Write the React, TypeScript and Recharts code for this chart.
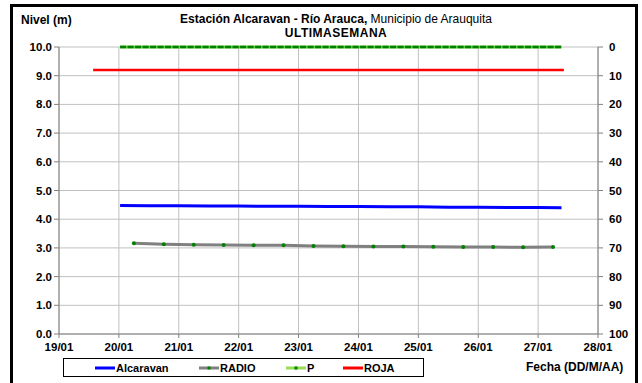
import React from 'react'
import { LineChart, Line, XAxis, YAxis, CartesianGrid } from 'recharts'

// time in day-of-month (January), fractional part = hour of day
const alcaravanDays = [20.02, 20.5, 21, 21.5, 22, 22.5, 23, 23.5, 24, 24.5, 25, 25.5, 26, 26.5, 27, 27.39]
const alcaravanLevels = [4.48, 4.47, 4.47, 4.46, 4.46, 4.45, 4.45, 4.44, 4.44, 4.43, 4.43, 4.42, 4.42, 4.41, 4.41, 4.4]

const radioDays = [20.25, 20.75, 21.25, 21.75, 22.25, 22.75, 23.25, 23.75, 24.25, 24.75, 25.25, 25.75, 26.25, 26.75, 27.25]
const radioLevels = [3.16, 3.13, 3.11, 3.1, 3.09, 3.09, 3.07, 3.06, 3.05, 3.05, 3.04, 3.03, 3.03, 3.02, 3.03]

const pDays = [20.02, 21, 22, 23, 24, 25, 26, 27, 27.39]
const pValues = [0, 0, 0, 0, 0, 0, 0, 0, 0]

const rojaDays = [19.57, 27.43]
const rojaLevels = [9.2, 9.2]

const xTicks = [19, 20, 21, 22, 23, 24, 25, 26, 27, 28]
const leftTicks = [0, 1, 2, 3, 4, 5, 6, 7, 8, 9, 10]
const rightTicks = [0, 10, 20, 30, 40, 50, 60, 70, 80, 90, 100]

const zip = (xs: number[], ys: number[]) => xs.map((x, i) => ({ t: x, v: ys[i] }))

const alcaravanData = zip(alcaravanDays, alcaravanLevels)
const radioData = zip(radioDays, radioLevels)
const pData = zip(pDays, pValues)
const rojaData = zip(rojaDays, rojaLevels)

const FONT = 'Arial, "Liberation Sans", sans-serif'
const tickStyle = { fontSize: 11.5, fontWeight: 700, fill: '#000', fontFamily: FONT }

function LegendItem({ color, label, dot, width }: { color: string; label: string; dot?: string; width: number }) {
  return (
    <div style={{ display: 'flex', alignItems: 'center', width }}>
      <svg width={20} height={6} style={{ marginRight: 1 }}>
        <line x1={0} y1={3} x2={20} y2={3} stroke={color} strokeWidth={3} />
        {dot && <rect x={8.5} y={1.5} width={3} height={3} fill={dot} />}
      </svg>
      <span>{label}</span>
    </div>
  )
}

export default function App() {
  return (
    <div style={{ position: 'absolute', left: 0, top: 0, width: 642, height: 383, overflow: 'hidden', background: '#fff', fontFamily: FONT }}>
      <div style={{ position: 'absolute', left: 10, top: 4, width: 628, height: 400, border: '3px solid #000', boxSizing: 'border-box' }} />
      <div style={{ position: 'absolute', left: 21, top: 13, fontSize: 12, fontWeight: 700 }}>Nivel (m)</div>
      <div style={{ position: 'absolute', left: 106, width: 460, top: 12, fontSize: 12, textAlign: 'center', lineHeight: '14px' }}>
        <span style={{ fontWeight: 700 }}>Estación Alcaravan - Río Arauca,</span> Municipio de Arauquita
        <br />
        <span style={{ fontWeight: 700, letterSpacing: 0.5 }}>ULTIMASEMANA</span>
      </div>
      <LineChart width={642} height={383} margin={{ top: 47, right: 4, bottom: 29, left: 14 }} style={{ position: 'absolute', left: 0, top: 0 }}>
        <CartesianGrid yAxisId="l" stroke="#c0c0c0" strokeWidth={1} />
        <XAxis
          type="number"
          dataKey="t"
          domain={[19, 28]}
          ticks={xTicks}
          tickFormatter={(v) => `${String(v).padStart(2, '0')}/01`}
          tick={tickStyle}
          stroke="#808080"
          tickSize={4}
          tickMargin={5}
          height={20}
          allowDuplicatedCategory={false}
        />
        <YAxis
          yAxisId="l"
          domain={[0, 10]}
          ticks={leftTicks}
          tickFormatter={(v) => Number(v).toFixed(1)}
          tick={tickStyle}
          stroke="#808080"
          tickSize={5}
          width={45}
          interval={0}
        />
        <YAxis
          yAxisId="r"
          orientation="right"
          reversed
          domain={[0, 100]}
          ticks={rightTicks}
          tick={tickStyle}
          stroke="#808080"
          tickSize={5}
          tickMargin={6}
          width={40}
          interval={0}
        />
        <Line yAxisId="l" data={rojaData} dataKey="v" stroke="#ff0000" strokeWidth={2.5} dot={false} isAnimationActive={false} />
        <Line yAxisId="l" data={alcaravanData} dataKey="v" stroke="#0000ff" strokeWidth={3} dot={false} isAnimationActive={false} />
        <Line
          yAxisId="l"
          data={radioData}
          dataKey="v"
          stroke="#808080"
          strokeWidth={3}
          dot={{ r: 2, fill: '#008000', stroke: '#008000', strokeWidth: 0 }}
          isAnimationActive={false}
        />
        <Line yAxisId="r" data={pData} dataKey="v" stroke="#66cc33" strokeWidth={3} dot={false} isAnimationActive={false} />
        <Line yAxisId="r" data={pData} dataKey="v" stroke="#008000" strokeWidth={2.5} strokeDasharray="6 1.5" dot={false} isAnimationActive={false} />
      </LineChart>
      <div style={{ position: 'absolute', left: 63, top: 358, width: 361, height: 19, border: '1px solid #000', boxSizing: 'border-box', display: 'flex', alignItems: 'center', fontSize: 11, fontWeight: 700, paddingLeft: 31 }}>
        <LegendItem color="#0000ff" label="Alcaravan" width={104} />
        <LegendItem color="#808080" label="RADIO" dot="#008000" width={87} />
        <LegendItem color="#99dd55" label="P" dot="#008000" width={57} />
        <LegendItem color="#ff0000" label="ROJA" width={60} />
      </div>
      <div style={{ position: 'absolute', left: 526, top: 360, fontSize: 12, fontWeight: 700 }}>Fecha (DD/M/AA)</div>
    </div>
  )
}
